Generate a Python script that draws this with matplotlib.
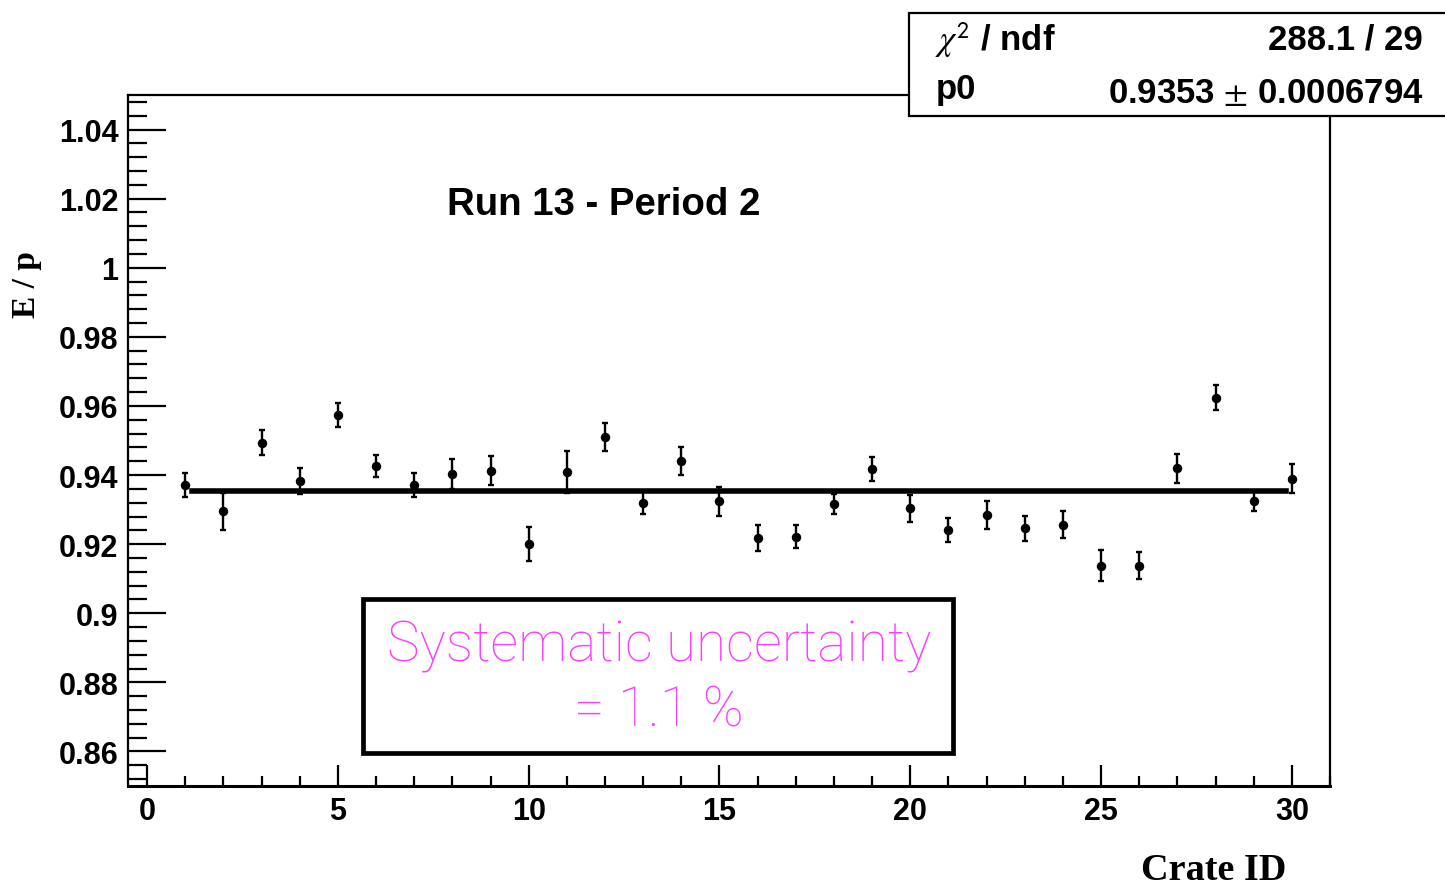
import numpy as np
import matplotlib
matplotlib.use("Agg")
import matplotlib.pyplot as plt
from matplotlib.patches import Rectangle
from matplotlib.ticker import MultipleLocator

plt.rcParams["font.family"] = ["Liberation Sans", "DejaVu Sans"]
plt.rcParams["mathtext.fontset"] = "stix"

# crate id, E/p and its error
crate = np.arange(1, 31)
ep = [0.9371, 0.9295, 0.9494, 0.9382, 0.9574, 0.9426, 0.9372, 0.9404, 0.9413, 0.9201,
      0.9409, 0.9510, 0.9320, 0.9440, 0.9324, 0.9217, 0.9222, 0.9317, 0.9418, 0.9304,
      0.9241, 0.9284, 0.9246, 0.9256, 0.9138, 0.9138, 0.9419, 0.9624, 0.9325, 0.9390]
ep_err = [0.0034, 0.0054, 0.0037, 0.0037, 0.0035, 0.0031, 0.0035, 0.0043, 0.0042, 0.0050,
          0.0062, 0.0041, 0.0034, 0.0040, 0.0042, 0.0037, 0.0033, 0.0029, 0.0034, 0.0039,
          0.0036, 0.0040, 0.0036, 0.0039, 0.0044, 0.0039, 0.0042, 0.0037, 0.0029, 0.0041]

# constant fit
p0 = 0.9353
fit_range = [1.17, 29.86]

W, H = 1445, 887

def fx(px):
    return px / W

def fy(py):
    return 1 - py / H

fig = plt.figure(figsize=(W / 100, H / 100), dpi=100)
ax = fig.add_axes([fx(128), fy(787), (1330 - 128) / W, (787 - 96) / H])

ax.errorbar(crate, ep, yerr=ep_err, fmt="o", color="black", ms=5.8,
            elinewidth=1.7, capsize=2.4, capthick=1.7, zorder=3)
ax.plot(fit_range, [p0, p0], color="black", lw=4.0, zorder=2)

ax.set_xlim(-0.5, 31)
ax.set_ylim(0.85, 1.05)
ax.xaxis.set_major_locator(MultipleLocator(5))
ax.xaxis.set_minor_locator(MultipleLocator(1))
ax.yaxis.set_minor_locator(MultipleLocator(0.004))
ax.set_yticks(np.round(np.arange(0.86, 1.041, 0.02), 2))
ax.set_yticklabels(["0.86", "0.88", "0.9", "0.92", "0.94", "0.96", "0.98", "1", "1.02", "1.04"])

ax.tick_params(axis="y", which="major", direction="in", length=27, width=1.6, pad=7,
               labelsize=22)
ax.tick_params(axis="y", which="minor", direction="in", length=13.5, width=1.6)
ax.tick_params(axis="x", which="major", direction="in", length=15, width=1.6, pad=7,
               labelsize=22)
ax.tick_params(axis="x", which="minor", direction="in", length=7.5, width=1.6)
for lab in ax.get_xticklabels() + ax.get_yticklabels():
    lab.set_fontweight("bold")
for name, spine in ax.spines.items():
    spine.set_linewidth(1.6)
ax.spines["bottom"].set_linewidth(2.2)

fig.text(fx(26), fy(285), "E / p", rotation=90, ha="center", va="center",
         family="Liberation Serif", fontweight="bold", fontsize=24)
fig.text(fx(1286), fy(871), "Crate ID", ha="right", va="center",
         family="Liberation Serif", fontweight="bold", fontsize=27.5)

fig.text(fx(604), fy(205), "Run 13 - Period 2", ha="center", va="center",
         fontweight="bold", fontsize=27.6)

# stats box
fig.patches.append(Rectangle((fx(909), fy(117)), 1.05 - fx(909), (117 - 14) / H,
                             transform=fig.transFigure, facecolor="white",
                             edgecolor="black", lw=1.6, zorder=1))
fig.text(fx(935), fy(40), r"$\chi^{\mathsf{2}}$ / ndf", ha="left", va="center",
         fontweight="bold", fontsize=25, zorder=4)
fig.text(fx(1423), fy(40), "288.1 / 29", ha="right", va="center",
         fontweight="bold", fontsize=25, zorder=4)
fig.text(fx(936), fy(90), "p0", ha="left", va="center",
         fontweight="bold", fontsize=25, zorder=4)
fig.text(fx(1423), fy(93), "0.9353 $\\pm$ 0.0006794", ha="right", va="center",
         fontweight="bold", fontsize=25, zorder=4)

# systematic uncertainty box
fig.patches.append(Rectangle((fx(363), fy(754)), (953 - 363) / W, (754 - 600) / H,
                             transform=fig.transFigure, fill=False,
                             edgecolor="black", lw=3.4, zorder=1))
mag = "#ff3cff"
fig.text(fx(659), fy(647), "Systematic uncertainty", ha="center", va="center",
         color=mag, fontsize=39.5, family=["Roboto", "Liberation Sans"],
         fontweight="light")
fig.text(fx(659), fy(711), "= 1.1 %", ha="center", va="center",
         color=mag, fontsize=39.5, family=["Roboto", "Liberation Sans"],
         fontweight="light")

fig.savefig("out.png", dpi=100)
